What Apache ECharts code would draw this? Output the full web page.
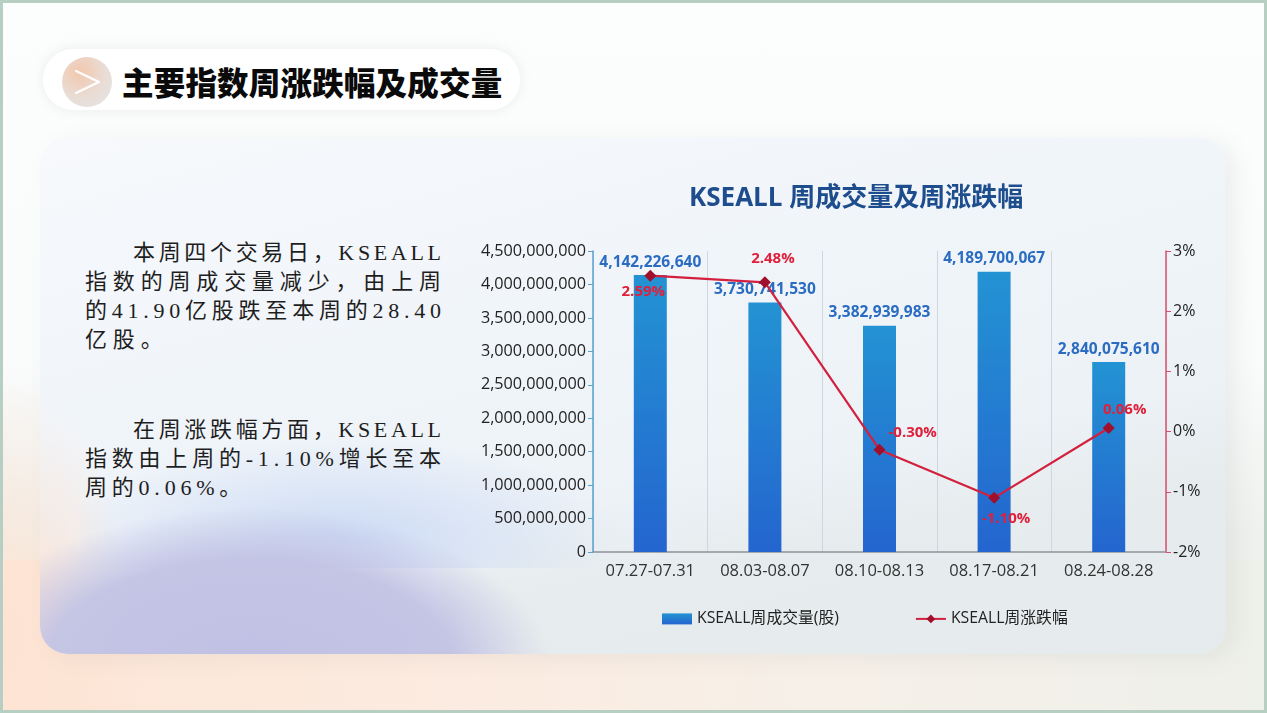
<!DOCTYPE html>
<html><head><meta charset="utf-8">
<script src="https://cdn.jsdelivr.net/npm/echarts@6/dist/echarts.min.js"></script>
<style>
html,body{margin:0;padding:0;width:1267px;height:713px;overflow:hidden;}
#page{position:relative;width:1267px;height:713px;overflow:hidden;
 background:linear-gradient(180deg,#fcfdfd 0%,#fafbfb 50%,#eef1ee 75%,#f1efe8 100%);}
#frame{position:absolute;left:0;top:0;width:1267px;height:713px;box-sizing:border-box;border:3px solid #b7cfc3;pointer-events:none;z-index:50;}
#band{position:absolute;left:0;top:560px;width:1267px;height:160px;
 background:linear-gradient(90deg,#fde6d7 0%,#fcebe0 35%,#f6f0e8 65%,#eef0ea 100%);}
#leftpeach{position:absolute;left:0;top:380px;width:200px;height:340px;
 background:radial-gradient(ellipse 160px 260px at 0px 260px,#fde3d2 0%,rgba(253,227,210,0) 100%);}
#card{position:absolute;left:40px;top:138px;width:1186px;height:516px;border-radius:28px;overflow:hidden;
 background:linear-gradient(165deg,#f7f9fc 0%,#eff4f9 45%,#e9eef3 100%);
 box-shadow:10px 4px 22px rgba(120,130,130,0.10);}
#lav{position:absolute;left:-40px;top:360px;width:600px;height:170px;
 background:radial-gradient(ellipse 300px 160px at 250px 170px,rgba(192,192,228,1) 0%,rgba(194,195,228,0.95) 68%,rgba(200,205,230,0) 100%);}
#lblue{position:absolute;left:40px;top:270px;width:560px;height:160px;
 background:radial-gradient(ellipse 280px 100px at 260px 130px,rgba(198,214,244,0.85) 0%,rgba(210,222,244,0) 100%);}
#cpeach{position:absolute;left:0;top:260px;width:140px;height:260px;
 background:radial-gradient(ellipse 90px 240px at 0px 240px,rgba(252,226,210,0.95) 0%,rgba(252,226,210,0) 100%);}
#rgrey{position:absolute;left:400px;top:200px;width:800px;height:320px;
 background:linear-gradient(170deg,rgba(230,236,236,0) 40%,rgba(228,234,234,0.7) 60%,rgba(228,234,234,0.7) 100%);}
#pill{position:absolute;left:43px;top:49px;width:477px;height:61px;border-radius:30px;background:#ffffff;
 box-shadow:0 0 12px rgba(150,170,160,0.18);}
#icon{position:absolute;left:62px;top:57px;width:50px;height:50px;border-radius:25px;
 background:radial-gradient(circle at 35% 30%,#f2c7ad 0%,#e9ddd6 55%,#e4e4e4 100%);filter:blur(0.6px);}
#icon svg{position:absolute;left:0;top:0;}
#ptitle{position:absolute;left:122px;top:59px;font-family:"Noto Sans CJK SC";font-weight:900;font-size:31.5px;line-height:44px;color:#0a0a0a;letter-spacing:0.2px;white-space:nowrap;}
.txt{position:absolute;left:85px;font-family:"Liberation Serif","Noto Sans CJK SC";font-size:22px;line-height:29px;color:#1e1e1e;}
.ln{display:block;white-space:nowrap;width:max-content;}
#chart{position:absolute;left:0;top:0;width:1267px;height:713px;}
</style></head>
<body>
<div id="page">
 <div id="band"></div>
 <div id="leftpeach"></div>
 <div id="card"><div id="cpeach"></div><div id="rgrey"></div><div id="lblue"></div><div id="lav"></div></div>
 <div id="pill"></div>
 <div id="icon"><svg width="50" height="50"><polyline points="14,14 37,25 14,36" fill="none" stroke="#ffffff" stroke-width="2.2" stroke-linejoin="round" stroke-linecap="round"/></svg></div>
 <div id="ptitle">主要指数周涨跌幅及成交量</div>
 <div class="txt" style="top:238px;">
  <span class="ln" data-w="308" style="padding-left:48px;">本周四个交易日，KSEALL</span>
  <span class="ln" data-w="356">指数的周成交量减少，由上周</span>
  <span class="ln" data-w="356">的41.90亿股跌至本周的28.40</span>
  <span class="ln" data-ref="1">亿股。</span>
 </div>
 <div class="txt" style="top:415px;">
  <span class="ln" data-w="308" style="padding-left:48px;">在周涨跌幅方面，KSEALL</span>
  <span class="ln" data-w="356">指数由上周的-1.10%增长至本</span>
  <span class="ln" data-ref="0">周的0.06%。</span>
 </div>
 <div id="chart"></div>
 <div id="frame"></div>
</div>
<script>
var categories = ['07.27-07.31','08.03-08.07','08.10-08.13','08.17-08.21','08.24-08.28'];
var volume = [4142226640, 3730741530, 3382939983, 4189700067, 2840075610];
var change = [2.59, 2.48, -0.30, -1.10, 0.06];
var leftTicks = [0, 4500000000, 500000000];
var rightTicks = [-2, 3, 1];

// spread the text lines like the justified paragraph of the reference
(function(){
 var blocks = document.querySelectorAll('.txt');
 blocks.forEach(function(b){
  var lines = b.querySelectorAll('.ln');
  var spacings = [];
  lines.forEach(function(el){
   if(!el.dataset.w) return;
   el.style.letterSpacing='0px';
   var pad = parseFloat(el.style.paddingLeft||0);
   var w = el.getBoundingClientRect().width - pad;
   var n = el.textContent.length;
   var s = (parseFloat(el.dataset.w) - w)/(n-1);
   el.style.letterSpacing = s+'px';
   spacings.push(s);
  });
  lines.forEach(function(el){
   if(el.dataset.w) return;
   el.style.letterSpacing = spacings[1]+'px';
  });
 });
})();

function fmt(v){ return Number(v).toLocaleString('en-US'); }
var ff = '"Open Sans","Noto Sans CJK SC",sans-serif';
var labelCfg = [
 {position:'bottom', distance:3, offset:[-7,0]},
 {position:'top', distance:10, offset:[8,0]},
 {position:'right', distance:3, offset:[0,-17]},
 {position:'bottom', distance:5, offset:[12,2]},
 {position:'top', distance:5, offset:[16,0]}
];
var lineData = change.map(function(v,i){
 return {value:v, label:labelCfg[i]};
});
var chart = echarts.init(document.getElementById('chart'), null, {renderer:'canvas'});
chart.setOption({
 backgroundColor:'transparent',
 animation:false,
 textStyle:{fontFamily:ff},
 title:{text:'KSEALL 周成交量及周涨跌幅', left:684, top:181,
  textStyle:{color:'#1d4d8c', fontSize:26, fontWeight:'bold', fontFamily:ff}},
 grid:{left:593, right:101, top:251, bottom:161, containLabel:false},
 legend:{left:657, top:606, itemWidth:30, itemHeight:11, itemGap:76,
  textStyle:{color:'#222', fontSize:15.8, fontFamily:ff},
  data:[{name:'KSEALL周成交量(股)', icon:'rect'},{name:'KSEALL周涨跌幅'}]},
 xAxis:{type:'category', data:categories, boundaryGap:true,
  axisLine:{lineStyle:{color:'#8f9399', width:1.5}},
  axisTick:{show:false},
  splitLine:{show:true, interval:0, lineStyle:{color:'#cfd6de', width:1}},
  axisLabel:{interval:0, color:'#333', fontSize:16.5, margin:11, fontFamily:ff}},
 yAxis:[
  {type:'value', min:leftTicks[0], max:leftTicks[1], interval:leftTicks[2],
   axisLine:{show:true, lineStyle:{color:'#5aa2cf', width:1.5}},
   axisTick:{show:true, length:5, lineStyle:{color:'#5aa2cf'}},
   splitLine:{show:false},
   axisLabel:{color:'#222', fontSize:16.2, margin:7, fontFamily:ff, formatter:function(v){return fmt(v);}}},
  {type:'value', min:rightTicks[0], max:rightTicks[1], interval:rightTicks[2], position:'right',
   axisLine:{show:true, lineStyle:{color:'#d9506e', width:1.5}},
   axisTick:{show:true, length:5, lineStyle:{color:'#d9506e'}},
   splitLine:{show:false},
   axisLabel:{color:'#222', fontSize:16, margin:7, fontFamily:ff, formatter:'{value}%'}}
 ],
 series:[
  {name:'KSEALL周成交量(股)', type:'bar', data:volume, barWidth:33, yAxisIndex:0,
   itemStyle:{color:new echarts.graphic.LinearGradient(0,0,0,1,[{offset:0,color:'#2393d3'},{offset:1,color:'#2465cf'}])},
   label:{show:true, position:'top', distance:5, color:'#2b6cc3', fontSize:15.5, fontWeight:'bold', fontFamily:ff,
    formatter:function(p){return fmt(p.value);}}},
  {name:'KSEALL周涨跌幅', type:'line', data:lineData, yAxisIndex:1, z:5,
   lineStyle:{color:'#d3203e', width:2.2},
   symbol:'diamond', symbolSize:12,
   itemStyle:{color:'#a0102c'},
   label:{show:true, color:'#e0203a', fontSize:15, fontWeight:'bold', fontFamily:ff,
    formatter:function(p){return p.value.toFixed(2)+'%';}}}
 ]
});
</script>
</body></html>
